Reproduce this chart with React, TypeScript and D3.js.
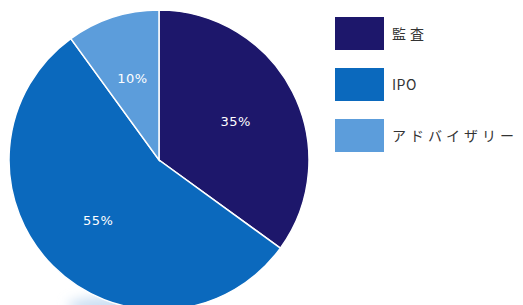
import { useEffect, useRef } from 'react';
import * as d3 from 'd3';

const categories = ['監査', 'IPO', 'アドバイザリー'];
const shares = [35, 55, 10];
const colors = ['#1d176b', '#0b69bd', '#5c9ddb'];

const App = () => {
  const svgRef = useRef<SVGSVGElement>(null);

  useEffect(() => {
    const svg = d3.select(svgRef.current);
    svg.selectAll('*').remove();

    const width = 523;
    const height = 305;
    const radius = 150;
    const cx = 159;
    const cy = 160;

    const color = d3.scaleOrdinal<string, string>().domain(categories).range(colors);

    // soft glow under the pie
    const defs = svg.append('defs');
    defs.append('filter').attr('id', 'blur')
      .attr('x', '-50%').attr('y', '-50%').attr('width', '200%').attr('height', '200%')
      .append('feGaussianBlur').attr('stdDeviation', 6);
    svg.append('ellipse')
      .attr('cx', 110).attr('cy', 306).attr('rx', 42).attr('ry', 9)
      .attr('fill', '#c9def3').attr('filter', 'url(#blur)');

    const pie = d3.pie<number>().sort(null).value(d => d);
    const arcs = pie(shares);
    const arc = d3.arc<d3.PieArcDatum<number>>().innerRadius(0).outerRadius(radius);
    const labelArc = d3.arc<d3.PieArcDatum<number>>().innerRadius(86).outerRadius(86);

    const g = svg.append('g').attr('transform', `translate(${cx},${cy})`);

    g.selectAll('path')
      .data(arcs)
      .join('path')
      .attr('d', arc)
      .attr('fill', (d, i) => color(categories[i]))
      .attr('stroke', '#ffffff')
      .attr('stroke-width', 1.5);

    g.selectAll('text')
      .data(arcs)
      .join('text')
      .attr('transform', d => `translate(${labelArc.centroid(d)})`)
      .attr('text-anchor', 'middle')
      .attr('dy', '0.35em')
      .attr('fill', '#ffffff')
      .style('font-family', '"DejaVu Sans", sans-serif')
      .style('font-size', '13px')
      .style('letter-spacing', '0.5px')
      .text(d => `${d.data}%`);

    // legend
    const legend = svg.append('g').attr('transform', 'translate(335,17)');
    const item = legend.selectAll('g')
      .data(categories)
      .join('g')
      .attr('transform', (d, i) => `translate(0,${i * 51})`);
    item.append('rect')
      .attr('width', 49).attr('height', 33)
      .attr('fill', d => color(d));
    item.append('text')
      .attr('x', 57).attr('y', 17)
      .attr('dy', '0.35em')
      .attr('fill', '#333333')
      .style('font-family', '"Noto Sans CJK JP", "Noto Sans", sans-serif')
      .style('font-size', '14px')
      .style('letter-spacing', d => (/^[\x00-\x7f]+$/.test(d) ? '0.5px' : '4px'))
      .text(d => d);

    svg.attr('width', width).attr('height', height);
  }, []);

  return (
    <svg ref={svgRef} width={523} height={305}
      style={{ position: 'absolute', left: 0, top: 0, background: '#ffffff' }} />
  );
};

export default App;
